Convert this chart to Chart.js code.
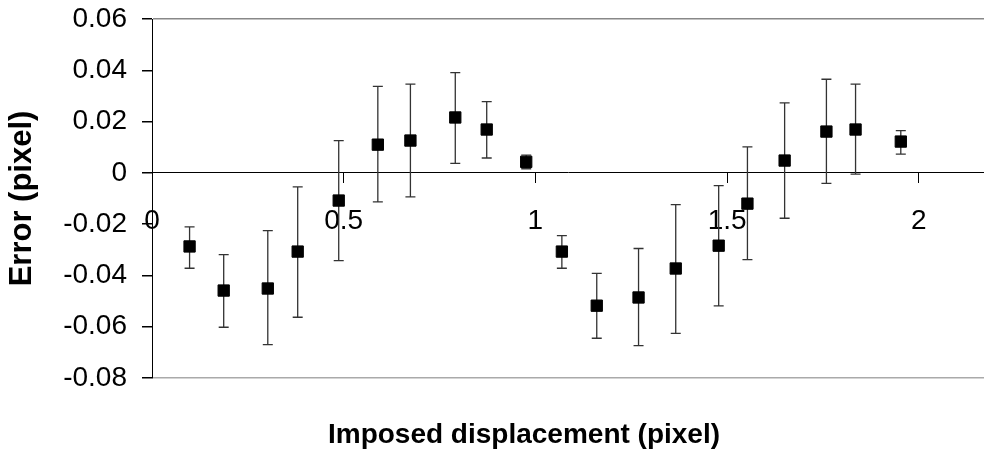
<!DOCTYPE html>
<html>
<head>
<meta charset="utf-8">
<script src="https://cdn.jsdelivr.net/npm/chart.js@4.4.0/dist/chart.umd.min.js"></script>
<style>
  body { margin: 0; background: #fff; }
</style>
</head>
<body>
<canvas id="errChart" width="984" height="452"></canvas>
<script>
const displacement = [0.098, 0.187, 0.302, 0.380, 0.487, 0.589, 0.674, 0.791, 0.873, 0.976,
                      1.069, 1.160, 1.269, 1.366, 1.478, 1.553, 1.650, 1.759, 1.835, 1.953];
const errorMean = [-0.0287, -0.0459, -0.0451, -0.0307, -0.0108, 0.0110, 0.0126, 0.0216, 0.0169, 0.0043,
                   -0.0307, -0.0518, -0.0486, -0.0373, -0.0284, -0.0120, 0.0048, 0.0161, 0.0169, 0.0122];
const errorHigh = [-0.0211, -0.0319, -0.0225, -0.0055, 0.0126, 0.0337, 0.0346, 0.0391, 0.0278, 0.0069,
                   -0.0245, -0.0392, -0.0295, -0.0124, -0.0050, 0.0101, 0.0273, 0.0365, 0.0346, 0.0165];
const errorLow = [-0.0372, -0.0602, -0.0670, -0.0563, -0.0342, -0.0113, -0.0094, 0.0037, 0.0058, 0.0016,
                  -0.0372, -0.0645, -0.0674, -0.0626, -0.0519, -0.0338, -0.0177, -0.0041, -0.0005, 0.0073];

const xTicks = [0, 0.5, 1, 1.5, 2];
const yTicks = [-0.08, -0.06, -0.04, -0.02, 0, 0.02, 0.04, 0.06];
const xTitle = 'Imposed displacement (pixel)';
const yTitle = 'Error (pixel)';

const FONT = "'Liberation Sans', Arial, sans-serif";

let points = [];
for (let i = 0; i < displacement.length; i++) {
    points.push({ x: displacement[i], y: errorMean[i] });
}

// error bars go under the markers
const errorBars = {
    id: 'errorBars',
    beforeDatasetsDraw(chart) {
        const ctx = chart.ctx;
        const xs = chart.scales.x, ys = chart.scales.y;
        ctx.save();
        ctx.strokeStyle = '#333';
        ctx.lineWidth = 1.3;
        for (let i = 0; i < displacement.length; i++) {
            const px = xs.getPixelForValue(displacement[i]);
            const top = ys.getPixelForValue(errorHigh[i]);
            const bot = ys.getPixelForValue(errorLow[i]);
            ctx.beginPath();
            ctx.moveTo(px, top); ctx.lineTo(px, bot);
            ctx.moveTo(px - 5, top); ctx.lineTo(px + 5, top);
            ctx.moveTo(px - 5, bot); ctx.lineTo(px + 5, bot);
            ctx.stroke();
        }
        ctx.restore();
    }
};

// x title sits under the plot, a bit left of the centre like the original
const bottomTitle = {
    id: 'bottomTitle',
    afterDraw(chart) {
        const ctx = chart.ctx;
        const a = chart.chartArea;
        ctx.save();
        ctx.font = 'bold 28px ' + FONT;
        ctx.fillStyle = '#000';
        ctx.textAlign = 'center';
        ctx.textBaseline = 'alphabetic';
        ctx.fillText(xTitle, (a.left + a.right) / 2 - 44, 443);
        ctx.restore();
    }
};

const ctx = document.getElementById('errChart').getContext('2d');
new Chart(ctx, {
    type: 'scatter',
    data: {
        datasets: [{
            label: 'Error',
            data: points,
            pointStyle: 'rect',
            pointRadius: 8,
            pointHoverRadius: 8,
            pointBackgroundColor: '#000',
            pointBorderColor: '#000',
            pointBorderWidth: 1
        }]
    },
    options: {
        responsive: false,
        animation: false,
        events: [],
        layout: { autoPadding: false, padding: { top: 19, right: 0, bottom: 74, left: 0 } },
        plugins: {
            legend: { display: false },
            tooltip: { enabled: false }
        },
        scales: {
            x: {
                type: 'linear',
                position: { y: 0 },
                min: 0,
                max: 2.17,
                afterBuildTicks: (s) => { s.ticks = xTicks.map(v => ({ value: v })); },
                afterFit: (s) => { s.paddingLeft = 0; s.paddingRight = 0; },
                ticks: {
                    color: '#000',
                    font: { family: FONT, size: 28 },
                    padding: 22,
                    maxRotation: 0,
                    callback: (v) => String(v)
                },
                grid: { drawOnChartArea: false, tickLength: 10, tickColor: '#000' },
                border: { color: '#000', width: 1 }
            },
            y: {
                min: -0.08,
                max: 0.06,
                afterBuildTicks: (s) => { s.ticks = yTicks.map(v => ({ value: v })); },
                afterFit: (s) => { s.width = 152; s.paddingTop = 0; s.paddingBottom = 0; },
                ticks: {
                    color: '#000',
                    font: { family: FONT, size: 28 },
                    padding: 15,
                    callback: (v) => String(Math.round(v * 100) / 100)
                },
                grid: {
                    tickLength: 10,
                    tickColor: '#000',
                    color: (c) => {
                        if (c.tick && c.tick.value === 0.06) return '#888';
                        if (c.tick && c.tick.value === -0.08) return '#aaa';
                        return 'rgba(0,0,0,0)';
                    },
                    lineWidth: 1.5
                },
                border: { color: '#000', width: 1 },
                title: {
                    display: true,
                    text: yTitle,
                    color: '#000',
                    font: { family: FONT, size: 31, weight: 'bold' },
                    padding: { top: 4, bottom: 0 }
                }
            }
        }
    },
    plugins: [errorBars, bottomTitle]
});
</script>
</body>
</html>
